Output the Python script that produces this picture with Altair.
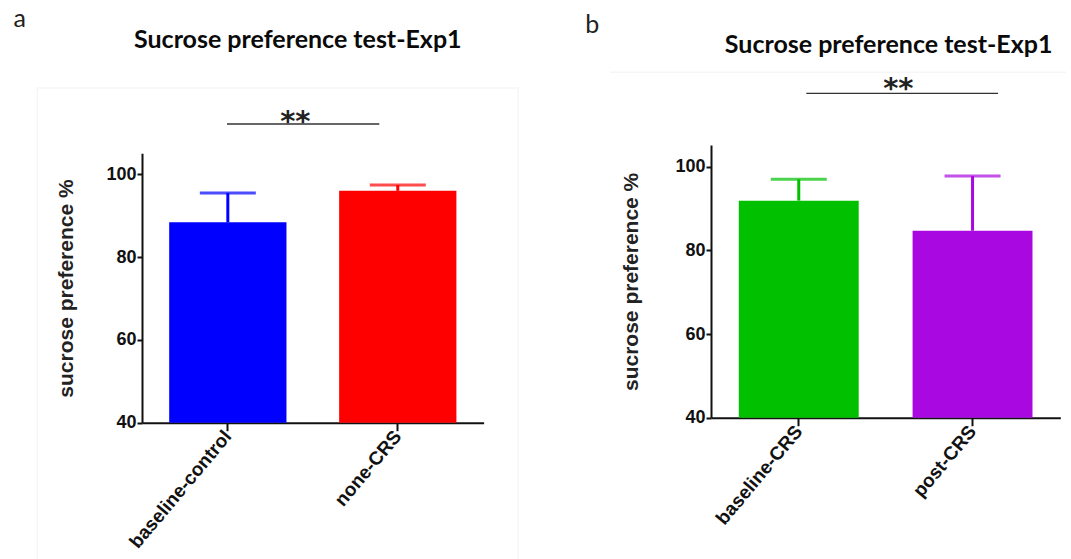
import altair as alt
import pandas as pd

# ---- data ----
cats_a = ["baseline-control", "none-CRS"]
mean_a = [88.4, 96.0]
err_a = [7.1, 1.4]
colors_a = ["#0000ff", "#ff0000"]

cats_b = ["baseline-CRS", "post-CRS"]
mean_b = [91.9, 84.7]
err_b = [5.1, 13.1]
colors_b = ["#00c000", "#aa08e0"]

y_ticks = [40, 60, 80, 100]
y_floor = 40
panel_title = "Sucrose preference test-Exp1"
y_title = "sucrose preference %"
sig_label = "**"
panel_letters = ["a", "b"]

AX = "#111111"
TICKFONT = "Liberation Sans"


def panel(cats, means, errs, colors, width, height, yscale, title_pad,
          title_xy, letter, letter_xy, sig_x, sig_y, star_xy, extras):
    df = pd.DataFrame({
        "group": cats,
        "mean": means,
        "upper": [m + e for m, e in zip(means, errs)],
        "floor": [y_floor] * len(cats),
        "color": colors,
    })
    x = alt.X("group:N", sort=cats,
              scale=alt.Scale(paddingInner=0.31, paddingOuter=0.16),
              axis=alt.Axis(title=None, labelAngle=310, labelFont=TICKFONT,
                            labelFontSize=19, labelFontWeight="bold",
                            labelColor=AX, domainColor=AX, domainWidth=2,
                            tickColor=AX, tickWidth=2, tickSize=8,
                            labelPadding=2))
    axis_y = alt.Axis(values=y_ticks, title=y_title, grid=False,
                      labelFont=TICKFONT, labelFontSize=18,
                      labelFontWeight="bold", labelColor=AX,
                      domainColor=AX, domainWidth=2, tickColor=AX,
                      tickWidth=2, tickSize=5, labelPadding=1,
                      titleFont="Liberation Sans", titleFontSize=21,
                      titleFontWeight="bold", titleColor="#222222",
                      titlePadding=title_pad)
    color = alt.Color("color:N", scale=None)
    base = alt.Chart(df)
    bars = base.mark_bar().encode(
        x=x, y=alt.Y("mean:Q", scale=yscale, axis=axis_y), y2="floor:Q",
        color=color)
    stem = base.mark_rule(strokeWidth=3).encode(
        x=x, y=alt.Y("mean:Q", scale=yscale, axis=axis_y), y2="upper:Q",
        color=color)
    cap = base.mark_tick(thickness=3, size=56).encode(
        x=x, y=alt.Y("upper:Q", scale=yscale, axis=axis_y), color=color)

    one = alt.Data(values=[{}])
    sig_rule = alt.Chart(one).mark_rule(color="#333333", strokeWidth=1.3).encode(
        x=alt.value(sig_x[0]), x2=alt.value(sig_x[1]), y=alt.value(sig_y))
    stars = alt.Chart(one).mark_text(
        text=sig_label, font="DejaVu Sans", fontSize=29, fontWeight="bold",
        color="#222222", align="center", baseline="alphabetic").encode(
        x=alt.value(star_xy[0]), y=alt.value(star_xy[1]))
    title = alt.Chart(one).mark_text(
        text=panel_title, font="Lato", fontSize=25, fontWeight="bold",
        color="#0a0a0a", align="center", baseline="alphabetic").encode(
        x=alt.value(title_xy[0]), y=alt.value(title_xy[1]))
    let = alt.Chart(one).mark_text(
        text=letter, font="Lato", fontSize=25, color="#222222",
        align="left", baseline="alphabetic").encode(
        x=alt.value(letter_xy[0]), y=alt.value(letter_xy[1]))
    layers = extras + [bars, stem, cap, sig_rule, stars, title, let]
    return alt.layer(*layers).properties(width=width, height=height)


one = alt.Data(values=[{}])
anchor = alt.Chart(one).mark_rect(opacity=0).encode(
    x=alt.value(-141.7), x2=alt.value(0), y=alt.value(-145), y2=alt.value(0))
frame_a = alt.Chart(one).mark_rect(filled=False, stroke="#f6f6f6",
                                   strokeWidth=1.5).encode(
    x=alt.value(-104.7), x2=alt.value(376.3), y=alt.value(-57), y2=alt.value(416))
line_b = alt.Chart(one).mark_rule(color="#f6f6f6", strokeWidth=1.5).encode(
    x=alt.value(-100.7), x2=alt.value(355), y=alt.value(-72.7))

scale_a = alt.Scale(domain=[40, 105.07], range=[277.7, 8.3], nice=False, zero=False)
scale_b = alt.Scale(domain=[40, 105.2], nice=False, zero=False)

pa = panel(cats_a, mean_a, err_a, colors_a, 341.6, 277.7, scale_a, 29,
           (155.8, -96.7), panel_letters[0], (-128.4, -118.3),
           (85, 237.3), -21, (153.3, -14.5), [anchor, frame_a])
pb = panel(cats_b, mean_b, err_b, colors_b, 349.3, 272.7, scale_b, 33,
           (177.6, -92), panel_letters[1], (-125.7, -111.7),
           (95.3, 287), -51.7, (187.3, -47.5), [line_b])

chart = alt.hconcat(pa, pb, spacing=227, bounds="flush").properties(
    padding=0, background="white"
).configure_view(stroke=None)

chart.save("out.html", embed_options={"renderer": "svg", "actions": False})
